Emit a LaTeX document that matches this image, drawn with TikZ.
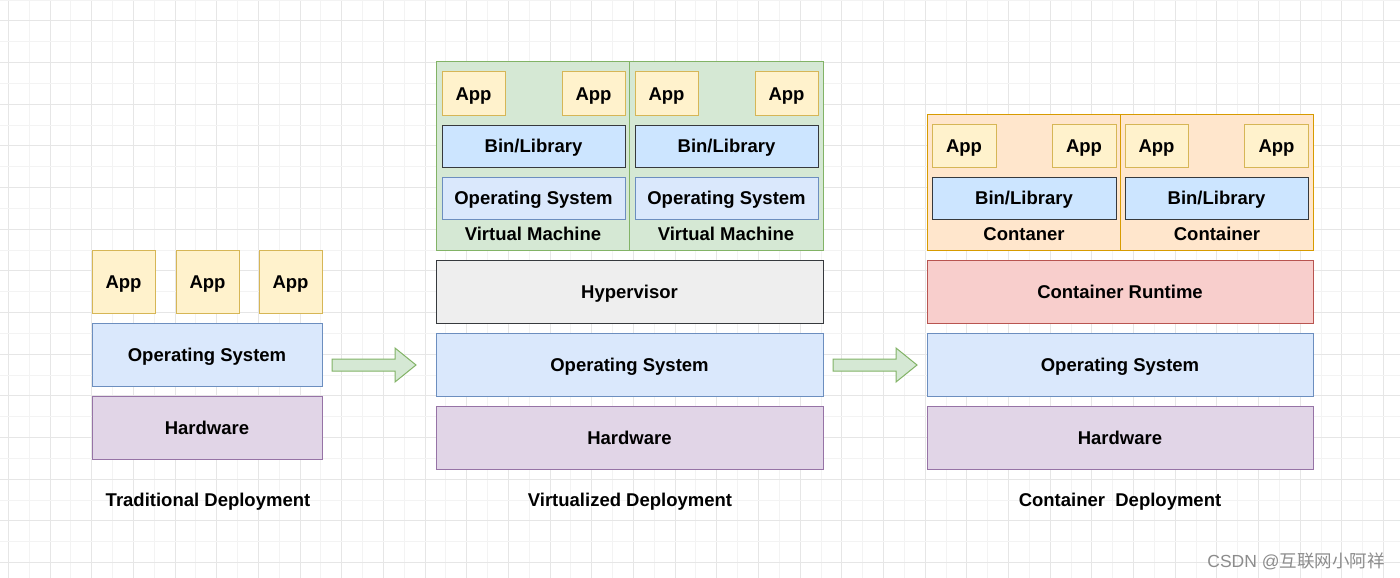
\documentclass[tikz,border=0pt]{standalone}
\usepackage{fontspec}
\setmainfont{Liberation Sans}
\newfontfamily\cjkfont{Noto Sans CJK SC}
\definecolor{yfill}{HTML}{FFF2CC}\definecolor{ystroke}{HTML}{D6B656}
\definecolor{bfill}{HTML}{DAE8FC}\definecolor{bstroke}{HTML}{6C8EBF}
\definecolor{pfill}{HTML}{E1D5E7}\definecolor{pstroke}{HTML}{9673A6}
\definecolor{gfill}{HTML}{D5E8D4}\definecolor{gstroke}{HTML}{82B366}
\definecolor{lfill}{HTML}{CCE5FF}\definecolor{dstroke}{HTML}{36393D}
\definecolor{hfill}{HTML}{EEEEEE}
\definecolor{ofill}{HTML}{FFE6CC}\definecolor{ostroke}{HTML}{D79B00}
\definecolor{rfill}{HTML}{F8CECC}\definecolor{rstroke}{HTML}{B85450}
\definecolor{gridmaj}{HTML}{E6E6E6}\definecolor{gridmin}{HTML}{F3F3F3}
\tikzset{
  box/.style={draw, line width=1pt, inner sep=0pt, text height=13.3pt, text depth=0pt, font=\fontsize{18.5}{20}\selectfont\bfseries, text=black},
  app/.style={box, fill=yfill, draw=ystroke, minimum width=63pt, minimum height=43pt},
  bigapp/.style={app, minimum height=63pt},
  osbox/.style={box, fill=bfill, draw=bstroke},
  hwbox/.style={box, fill=pfill, draw=pstroke},
  libbox/.style={box, fill=lfill, draw=dstroke, minimum width=183pt, minimum height=42pt},
  vmbox/.style={box, fill=gfill, draw=gstroke},
  ctbox/.style={box, fill=ofill, draw=ostroke},
  layer/.style={minimum width=387pt, minimum height=63pt},
  lbl/.style={inner sep=0pt, text height=13.3pt, text depth=0pt, font=\fontsize{18.5}{20}\selectfont\bfseries},
  blockarrow/.style={draw=gstroke, fill=gfill, line width=1pt, line join=miter}
}
\begin{document}
\begin{tikzpicture}[x=1pt,y=-1pt]
\useasboundingbox (0,0) rectangle (1400,578);
\fill[white] (0,0) rectangle (1400,578);
% grid
\foreach \i in {0,...,33}{
  \draw[gridmin, line width=0.8pt] ({29.17+41.67*\i},0) -- ({29.17+41.67*\i},578);
  \draw[gridmaj, line width=0.8pt] ({8.33+41.67*\i},0) -- ({8.33+41.67*\i},578);
}
\foreach \i in {0,...,13}{
  \draw[gridmin, line width=0.8pt] (0,{41.67*\i}) -- (1400,{41.67*\i});
  \draw[gridmaj, line width=0.8pt] (0,{20.83+41.67*\i}) -- (1400,{20.83+41.67*\i});
}
% Traditional
\node[bigapp] (ta1) at (123.5,281.5) {App};
\node[bigapp] (ta2) at (207.5,281.5) {App};
\node[bigapp] (ta3) at (290.5,281.5) {App};
\node[osbox, minimum width=230pt, minimum height=63pt] (tos) at (207,354.5) {Operating System};
\node[hwbox, minimum width=230pt, minimum height=63pt] (thw) at (207,427.5) {Hardware};
\node[lbl] (tlab) at (208,500) {Traditional Deployment};
% arrow 1
\coordinate (a1) at (332,365);
\draw[blockarrow] (a1) ++(0,-6) -- ++(63,0) -- ++(0,-11) -- ++(21,17) -- ++(-21,17) -- ++(0,-11) -- ++(-63,0) -- cycle;
% Virtualized
\node[vmbox, minimum width=193pt, minimum height=188pt] (vm1) at (532.5,156) {};
\node[vmbox, minimum width=194pt, minimum height=188pt] (vm2) at (726,156) {};
\node[app] (va1) at (473.5,93.5) {App};
\node[app] (va2) at (593.5,93.5) {App};
\node[app] (va3) at (666.5,93.5) {App};
\node[app] (va4) at (786.5,93.5) {App};
\node[libbox] (vl1) at (533.5,146) {Bin/Library};
\node[libbox] (vl2) at (726.5,146) {Bin/Library};
\node[osbox, minimum width=183pt, minimum height=42pt] (vo1) at (533.5,198) {Operating System};
\node[osbox, minimum width=183pt, minimum height=42pt] (vo2) at (726.5,198) {Operating System};
\node[lbl] (vml1) at (533,234) {Virtual Machine};
\node[lbl] (vml2) at (726,234) {Virtual Machine};
\node[box, layer, fill=hfill, draw=dstroke] (hyp) at (629.5,291.5) {Hypervisor};
\node[osbox, layer] (vos) at (629.5,364.5) {Operating System};
\node[hwbox, layer] (vhw) at (629.5,437.5) {Hardware};
\node[lbl] (vlab) at (630,500) {Virtualized Deployment};
% arrow 2
\coordinate (a2) at (833,365);
\draw[blockarrow] (a2) ++(0,-6) -- ++(63,0) -- ++(0,-11) -- ++(21,17) -- ++(-21,17) -- ++(0,-11) -- ++(-63,0) -- cycle;
% Container
\node[ctbox, minimum width=193pt, minimum height=136pt] (c1) at (1023.5,182) {};
\node[ctbox, minimum width=193pt, minimum height=136pt] (c2) at (1216.5,182) {};
\node[app, minimum width=64pt] (ca1) at (964,145.5) {App};
\node[app, minimum width=64pt] (ca2) at (1084,145.5) {App};
\node[app] (ca3) at (1156.5,145.5) {App};
\node[app, minimum width=64pt] (ca4) at (1276.5,145.5) {App};
\node[libbox, minimum width=184pt] (cl1) at (1024,198) {Bin/Library};
\node[libbox] (cl2) at (1216.5,198) {Bin/Library};
\node[lbl] (cml1) at (1024,234) {Contaner};
\node[lbl] (cml2) at (1217,234) {Container};
\node[box, layer, minimum width=386pt, fill=rfill, draw=rstroke] (crt) at (1120,291.5) {Container Runtime};
\node[osbox, layer, minimum width=386pt] (cos) at (1120,364.5) {Operating System};
\node[hwbox, layer, minimum width=386pt] (chw) at (1120,437.5) {Hardware};
\node[lbl] (clab) at (1120,500) {Container\ \ Deployment};
% watermark
\node[inner sep=0pt, text=black!45, font=\fontsize{17.5}{18}\selectfont] (wm) at (1296,561) {CSDN @{\cjkfont 互联网小阿祥}};
\end{tikzpicture}
\end{document}
